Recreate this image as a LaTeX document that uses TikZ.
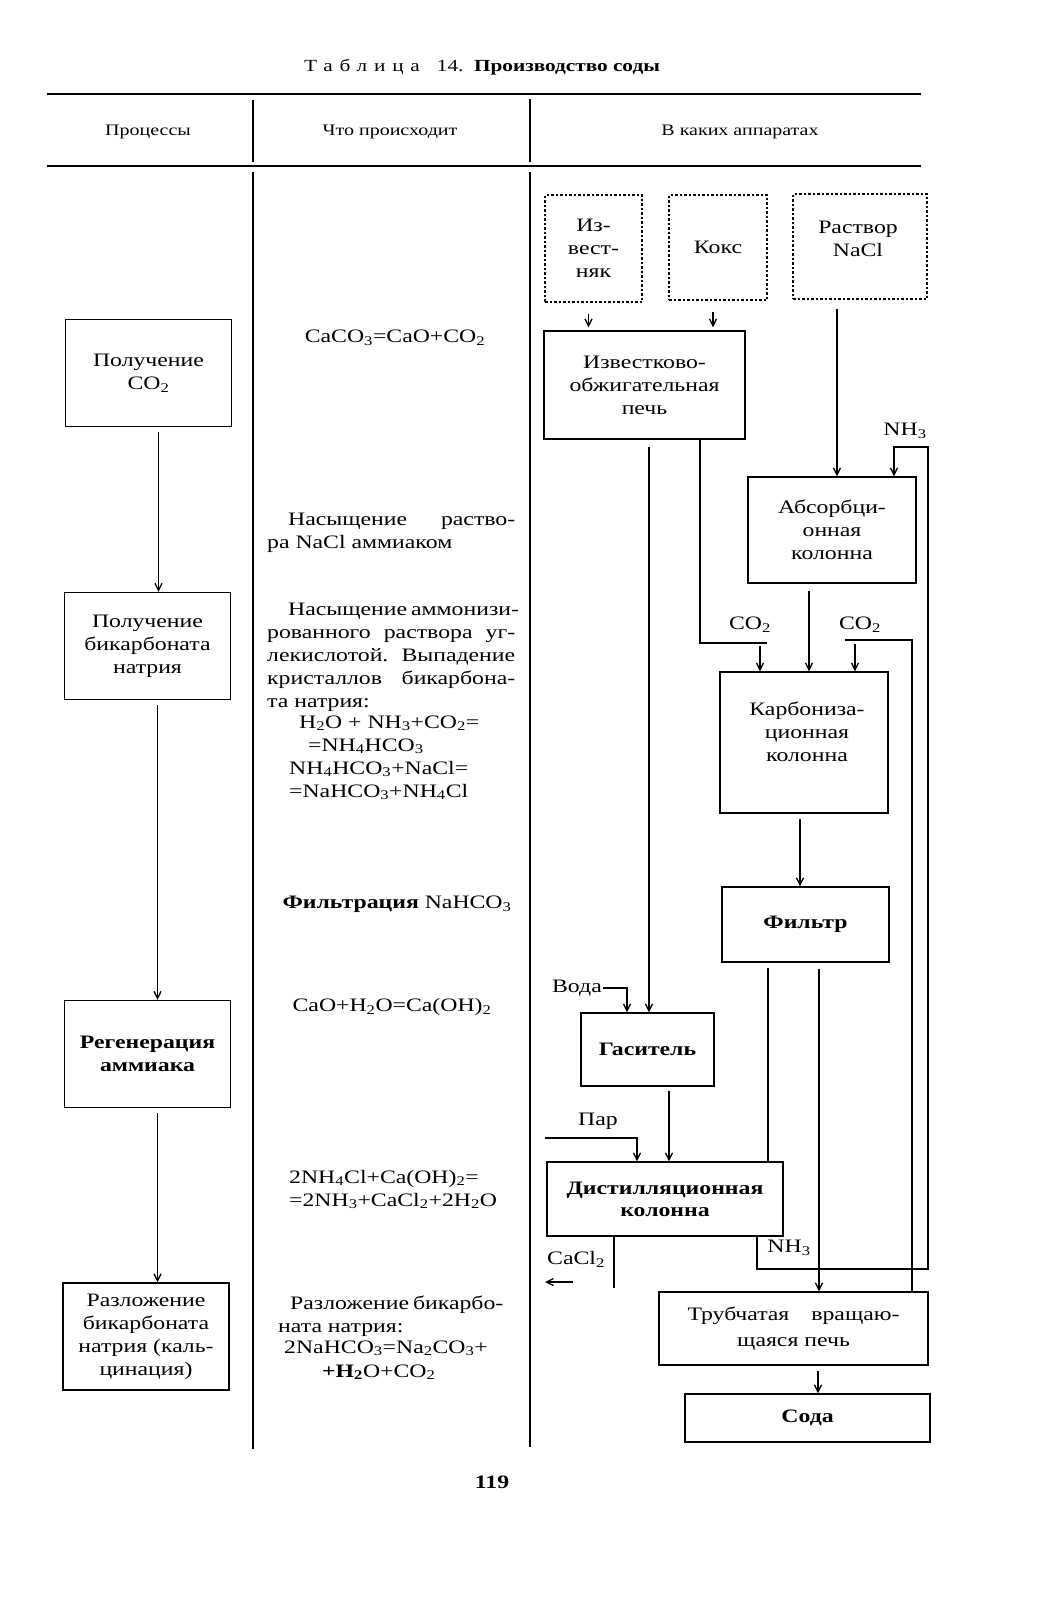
\documentclass[tikz,border=0pt]{standalone}
\usepackage{fontspec}
\setmainfont{Liberation Serif}[FakeStretch=1.25]
\usetikzlibrary{arrows.meta,positioning}
\newcommand{\ix}[1]{\textsubscript{#1}}
\newcommand{\jl}[1]{\hbox to 248pt{#1}}
\newcommand{\jr}[1]{\hbox to 215pt{#1}}

\begin{document}
\begin{tikzpicture}[x=1pt,y=-1pt,
    font=\fontsize{19}{23}\selectfont,
    rulel/.style={line width=1.8pt},
    coll/.style={line width=1.5pt},
    procbox/.style={draw,line width=1.4pt,align=center,minimum width=166pt,minimum height=107pt,inner sep=2pt},
    appbox/.style={draw,line width=1.4pt,align=center,inner sep=2pt},
    srcbox/.style={draw,line width=1.5pt,dash pattern=on 2.5pt off 2pt,align=center,inner sep=2pt},
    flow/.style={line width=1.3pt},
    arr/.style={flow,-{Straight Barb[length=7pt,width=7pt]}},
    hd/.style={font=\fontsize{16}{19}\selectfont},
    txt/.style={anchor=base west,inner sep=0pt}]
  \useasboundingbox (0,0) rectangle (1047,1600);
  \fill[white] (0,0) rectangle (1047,1600);

  \node (title) at (482,67) {\fontsize{17}{20}\selectfont{\addfontfeatures{LetterSpace=40}Таблица}\quad 14.\ \ \textbf{Производство соды}};
  \draw[rulel] (47,94) -- (921,94);
  \draw[rulel] (47,166) -- (921,166);
  \draw[coll] (253,100) -- (253,162);
  \draw[coll] (253,172) -- (253,1449);
  \draw[coll] (530,99) -- (530,162);
  \draw[coll] (530,172) -- (530,1447);
  \node[hd] (hproc) at (148,132) {Процессы};
  \node[hd] (hwhat) at (390,132) {Что происходит};
  \node[hd] (happ) at (740,132) {В каких аппаратах};

  % processes
  \node[procbox] (getco) at (148.5,373) {Получение\\CO\ix{2}};
  \node[procbox] (getbic) at (147.5,646) {Получение\\бикарбоната\\натрия};
  \node[procbox,font=\fontsize{19}{23}\selectfont\bfseries] (regen) at (147.5,1054) {Регенерация\\аммиака};
  \node[procbox] (decomp) at (146,1336.5) {Разложение\\бикарбоната\\натрия (каль-\\цинация)};
  \draw[arr,shorten <=5pt] ([xshift=10pt]getco.south) -- ([xshift=10pt]getco.south |- getbic.north);
  \draw[arr,shorten <=5pt] ([xshift=10pt]getbic.south) -- ([xshift=10pt]getbic.south |- regen.north);
  \draw[arr,shorten <=5pt] ([xshift=10pt]regen.south) -- ([xshift=10pt]regen.south |- decomp.north);

  % what happens
  \node (eqa) at (395,338) {CaCO\ix{3}=CaO+CO\ix{2}};
  \node[txt] (satur) at (267,525) {\vtop{\jl{\hskip21pt Насыщение раство-}\jl{ра NaCl аммиаком\hfill}}};
  \node[txt] (carbtx) at (267,615) {\vtop{\jl{\hskip21pt Насыщение аммонизи-}\jl{рованного раствора уг-}\jl{лекислотой. Выпадение}\jl{кристаллов бикарбона-}\jl{та натрия:\hfill}}};
  \node[txt] (eqb) at (299,728) {H\ix{2}O + NH\ix{3}+CO\ix{2}=};
  \node[txt] (eqc) at (308,751) {=NH\ix{4}HCO\ix{3}};
  \node[txt] (eqd) at (289,774) {NH\ix{4}HCO\ix{3}+NaCl=};
  \node[txt] (eqe) at (289,797) {=NaHCO\ix{3}+NH\ix{4}Cl};
  \node (filttx) at (397,904) {\textbf{Фильтрация} NaHCO\ix{3}};
  \node (eqf) at (392,1007) {CaO+H\ix{2}O=Ca(OH)\ix{2}};
  \node[txt] (eqg) at (289,1183) {2NH\ix{4}Cl+Ca(OH)\ix{2}=};
  \node[txt] (eqh) at (289,1206) {=2NH\ix{3}+CaCl\ix{2}+2H\ix{2}O};
  \node[txt] (dectx) at (278,1309) {\vtop{\jr{\hskip12pt Разложение бикарбо-}\jr{ната натрия:\hfill}}};
  \node[txt] (eqi) at (284,1353) {2NaHCO\ix{3}=Na\ix{2}CO\ix{3}+};
  \node[txt] (eqj) at (322,1377) {\textbf{+H\ix{2}}O+CO\ix{2}};

  % apparatus
  \node[srcbox,minimum width=97pt,minimum height=107pt] (lime) at (593.5,248.5) {Из-\\вест-\\няк};
  \node[srcbox,minimum width=98pt,minimum height=105pt] (coke) at (718,247.5) {Кокс};
  \node[srcbox,minimum width=134pt,minimum height=105pt] (nacl) at (860,246.5) {};
  \node[align=center] (naclT) at (858,239) {Раствор\\NaCl};
  \node[appbox,minimum width=201pt,minimum height=108pt] (furnace) at (644.5,385) {Известково-\\обжигательная\\печь};
  \node[appbox,minimum width=168pt,minimum height=106pt] (absorb) at (832,530) {Абсорбци-\\онная\\колонна};
  \node[appbox,minimum width=168pt,minimum height=141pt] (carb) at (804,742.5) {};
  \node[align=center] (carbT) at (807,732) {Карбониза-\\ционная\\колонна};
  \node[appbox,minimum width=167pt,minimum height=75pt,font=\fontsize{19}{23}\selectfont\bfseries] (filter) at (805.5,924.5) {Фильтр};
  \node[appbox,minimum width=133pt,minimum height=73pt,font=\fontsize{19}{23}\selectfont\bfseries] (slaker) at (647.5,1049.5) {Гаситель};
  \node[appbox,minimum width=236pt,minimum height=74pt,font=\fontsize{19}{22}\selectfont\bfseries] (distil) at (665,1199) {Дистилляционная\\колонна};
  \node[appbox,minimum width=269pt,minimum height=73pt,font=\fontsize{19}{26}\selectfont] (kiln) at (793.5,1328.5) {\hbox to 212pt{Трубчатая\hfil вращаю-}\\щаяся печь};
  \node[appbox,minimum width=245pt,minimum height=48pt,font=\fontsize{19}{23}\selectfont\bfseries] (soda) at (807.5,1418) {Сода};

  \draw[arr,shorten <=11pt,shorten >=3pt] ([xshift=-5pt]lime.south) -- ([xshift=-5pt]lime.south |- furnace.north);
  \draw[arr,shorten <=11pt,shorten >=3pt] ([xshift=-5pt]coke.south) -- ([xshift=-5pt]coke.south |- furnace.north);
  \draw[arr,shorten <=9pt] ([xshift=-23pt]nacl.south) -- ([xshift=-23pt]nacl.south |- absorb.north);

  \coordinate (co2a) at (767,643);
  \coordinate (co2b) at (845,640);
  \draw[flow] ([xshift=55.5pt]furnace.south) |- (co2a);
  \node (co2aT) at (750,625) {CO\ix{2}};
  \draw[arr] ([xshift=-44pt,yshift=25pt]carb.north) -- ([xshift=-44pt]carb.north);
  \draw[flow] ([xshift=118.5pt]kiln.north) |- (co2b);
  \node (co2bT) at (860,625) {CO\ix{2}};
  \draw[arr] ([xshift=51pt,yshift=27pt]carb.north) -- ([xshift=51pt]carb.north);
  \draw[arr,shorten <=7pt] ([xshift=-23pt]absorb.south) -- ([xshift=-23pt]absorb.south |- carb.north);
  \draw[arr,shorten <=5pt] ([xshift=-4pt]carb.south) -- ([xshift=-4pt]carb.south |- filter.north);

  \draw[arr,shorten <=7pt] ([xshift=4.5pt]furnace.south) -- ([xshift=4.5pt]furnace.south |- slaker.north);
  \coordinate (voda) at (603,988);
  \draw[arr] (voda) -| ([xshift=-20.5pt]slaker.north);
  \node[anchor=east,inner sep=1pt] (vodaT) at (voda) {Вода};
  \draw[arr,shorten <=4pt] ([xshift=21.5pt]slaker.south) -- ([xshift=21.5pt]slaker.south |- distil.north);
  \coordinate (par) at (545,1138);
  \draw[arr] (par) -| ([xshift=-28pt]distil.north);
  \node (parT) at (598,1121) {Пар};

  \draw[flow,shorten <=5pt] ([xshift=-37.5pt]filter.south) -- ([xshift=-37.5pt]filter.south |- distil.north);
  \draw[arr,shorten <=6pt] ([xshift=13.5pt]filter.south) -- ([xshift=13.5pt]filter.south |- kiln.north);

  \coordinate (caclEnd) at (614,1288);
  \coordinate (caclA) at (573,1282);
  \coordinate (caclB) at (545,1282);
  \draw[flow] ([xshift=-51pt]distil.south) -- (caclEnd);
  \draw[arr] (caclA) -- (caclB);
  \node (caclT) at (576,1259) {CaCl\ix{2}};

  \coordinate (nhA) at (928,1269);
  \coordinate (nhB) at (928,447);
  \draw[arr] ([xshift=92pt]distil.south) |- (nhA) -- (nhB) -| ([xshift=62pt]absorb.north);
  \node (nhT) at (905,431) {NH\ix{3}};
  \node (nhbT) at (789,1248) {NH\ix{3}};

  \draw[arr,shorten <=5pt] ([xshift=24.5pt]kiln.south) -- ([xshift=24.5pt]kiln.south |- soda.north);

  \node (pnum) at (492,1482) {\textbf{119}};
\end{tikzpicture}
\end{document}
